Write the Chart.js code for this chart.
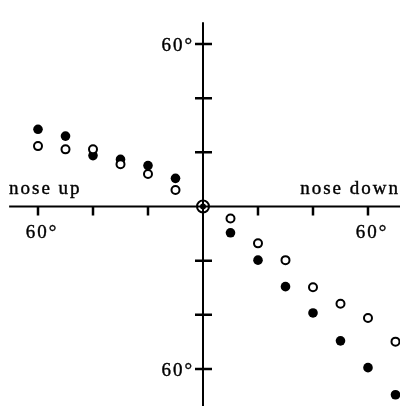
<!DOCTYPE html>
<html>
<head>
<meta charset="utf-8">
<script src="https://cdn.jsdelivr.net/npm/chart.js@4/dist/chart.umd.min.js"></script>
<style>
    html, body { margin: 0; padding: 0; background: #fff; }
    #wrap { width: 400px; height: 406px; }
</style>
</head>
<body>
<div id="wrap"><canvas id="chart"></canvas></div>
<script>
// --- Data (degrees) ---
const noseUpAngles = [-60, -50, -40, -30, -20, -10];
const noseUpFilled = [28.5, 26, 18.8, 17.4, 15.1, 10.4];
const noseUpOpen = [22.3, 21.1, 21.1, 15.6, 12, 6.1];

const noseDownAngles = [10, 20, 30, 40, 50, 60, 70];
const noseDownFilled = [-9.7, -19.8, -29.6, -39.3, -49.6, -59.5, -69.5];
const noseDownOpen = [-4.4, -13.6, -19.8, -29.8, -35.9, -41.2, -49.9];

const originPoint = [{ x: 0, y: 0 }];

// axis ticks every 20 degrees, labels only at +/-60
const xTicks = [-60, -40, -20, 20, 40, 60];
const yTicks = [-60, -40, -20, 20, 40, 60];
const xTickLabels = { '-60': '60°', '60': '60°' };
const yTickLabels = { '-60': '60°', '60': '60°' };
const sideLabels = ['nose up', 'nose down'];

const FONT = "19px 'Liberation Serif', 'Times New Roman', serif";

function toPoints(xs, ys) {
    return xs.map((x, i) => ({ x: x, y: ys[i] }));
}

const filledPoints = toPoints(noseUpAngles, noseUpFilled).concat(toPoints(noseDownAngles, noseDownFilled));
const openPoints = toPoints(noseUpAngles, noseUpOpen).concat(toPoints(noseDownAngles, noseDownOpen));

/**
 * Draws the crossing axes, ticks and text labels through the chart scales
 */
const crossAxes = {
    id: 'crossAxes',
    beforeDraw(chart) {
        const ctx = chart.ctx;
        ctx.save();
        ctx.fillStyle = '#fff';
        ctx.fillRect(0, 0, chart.width, chart.height);
        ctx.restore();
    },
    beforeDatasetsDraw(chart) {
        const ctx = chart.ctx;
        const xs = chart.scales.x;
        const ys = chart.scales.y;
        const x0 = xs.getPixelForValue(0);
        const y0 = ys.getPixelForValue(0);

        ctx.save();
        ctx.strokeStyle = '#000';
        ctx.lineWidth = 2;

        // main axes
        ctx.beginPath();
        ctx.moveTo(xs.getPixelForValue(-70.5), y0);
        ctx.lineTo(chart.width, y0);
        ctx.moveTo(x0, ys.getPixelForValue(68));
        ctx.lineTo(x0, chart.height);
        ctx.stroke();

        // x ticks hang below the axis
        ctx.lineWidth = 2.5;
        ctx.beginPath();
        xTicks.forEach(v => {
            const px = xs.getPixelForValue(v);
            ctx.moveTo(px, y0);
            ctx.lineTo(px, y0 + 9);
        });
        // y ticks cross the axis
        yTicks.forEach(v => {
            const py = ys.getPixelForValue(v);
            ctx.moveTo(x0 - 8, py);
            ctx.lineTo(x0 + 9, py);
        });
        ctx.stroke();

        // text
        ctx.fillStyle = '#000';
        ctx.strokeStyle = '#000';
        ctx.lineWidth = 0.4;
        ctx.font = FONT;
        if ('letterSpacing' in ctx) ctx.letterSpacing = '2px';
        ctx.textBaseline = 'alphabetic';

        const put = (t, x, y) => { ctx.fillText(t, x, y); ctx.strokeText(t, x, y); };

        ctx.textAlign = 'center';
        xTicks.forEach(v => {
            const t = xTickLabels[String(v)];
            if (t) put(t, xs.getPixelForValue(v) + 4, y0 + 31);
        });
        ctx.textAlign = 'right';
        yTicks.forEach(v => {
            const t = yTickLabels[String(v)];
            if (t) put(t, x0 - 9, ys.getPixelForValue(v) + 7);
        });

        ctx.textAlign = 'left';
        put(sideLabels[0], 9, y0 - 13);
        ctx.textAlign = 'right';
        put(sideLabels[1], chart.width, y0 - 13);
        ctx.restore();
    }
};

new Chart(document.getElementById('chart'), {
    type: 'scatter',
    data: {
        datasets: [
            {
                label: 'origin',
                data: originPoint,
                pointRadius: 6,
                pointBorderWidth: 2,
                pointBorderColor: '#000',
                pointBackgroundColor: 'rgba(0,0,0,0)',
                clip: false
            },
            {
                label: 'origin dot',
                data: originPoint,
                pointRadius: 3,
                pointBorderWidth: 0,
                pointBackgroundColor: '#000',
                clip: false
            },
            {
                label: 'open',
                data: openPoints,
                pointRadius: 4,
                pointBorderWidth: 2,
                pointBorderColor: '#000',
                pointBackgroundColor: '#fff',
                clip: false
            },
            {
                label: 'filled',
                data: filledPoints,
                pointRadius: 4.8,
                pointBorderWidth: 0,
                pointBackgroundColor: '#000',
                clip: false
            }
        ]
    },
    options: {
        responsive: true,
        maintainAspectRatio: false,
        animation: false,
        layout: { padding: 0, autoPadding: false },
        plugins: {
            legend: { display: false },
            tooltip: { enabled: false }
        },
        scales: {
            x: { type: 'linear', display: false, min: -73.82, max: 71.64 },
            y: { type: 'linear', display: false, min: -73.66, max: 76.25 }
        }
    },
    plugins: [crossAxes]
});
</script>
</body>
</html>
